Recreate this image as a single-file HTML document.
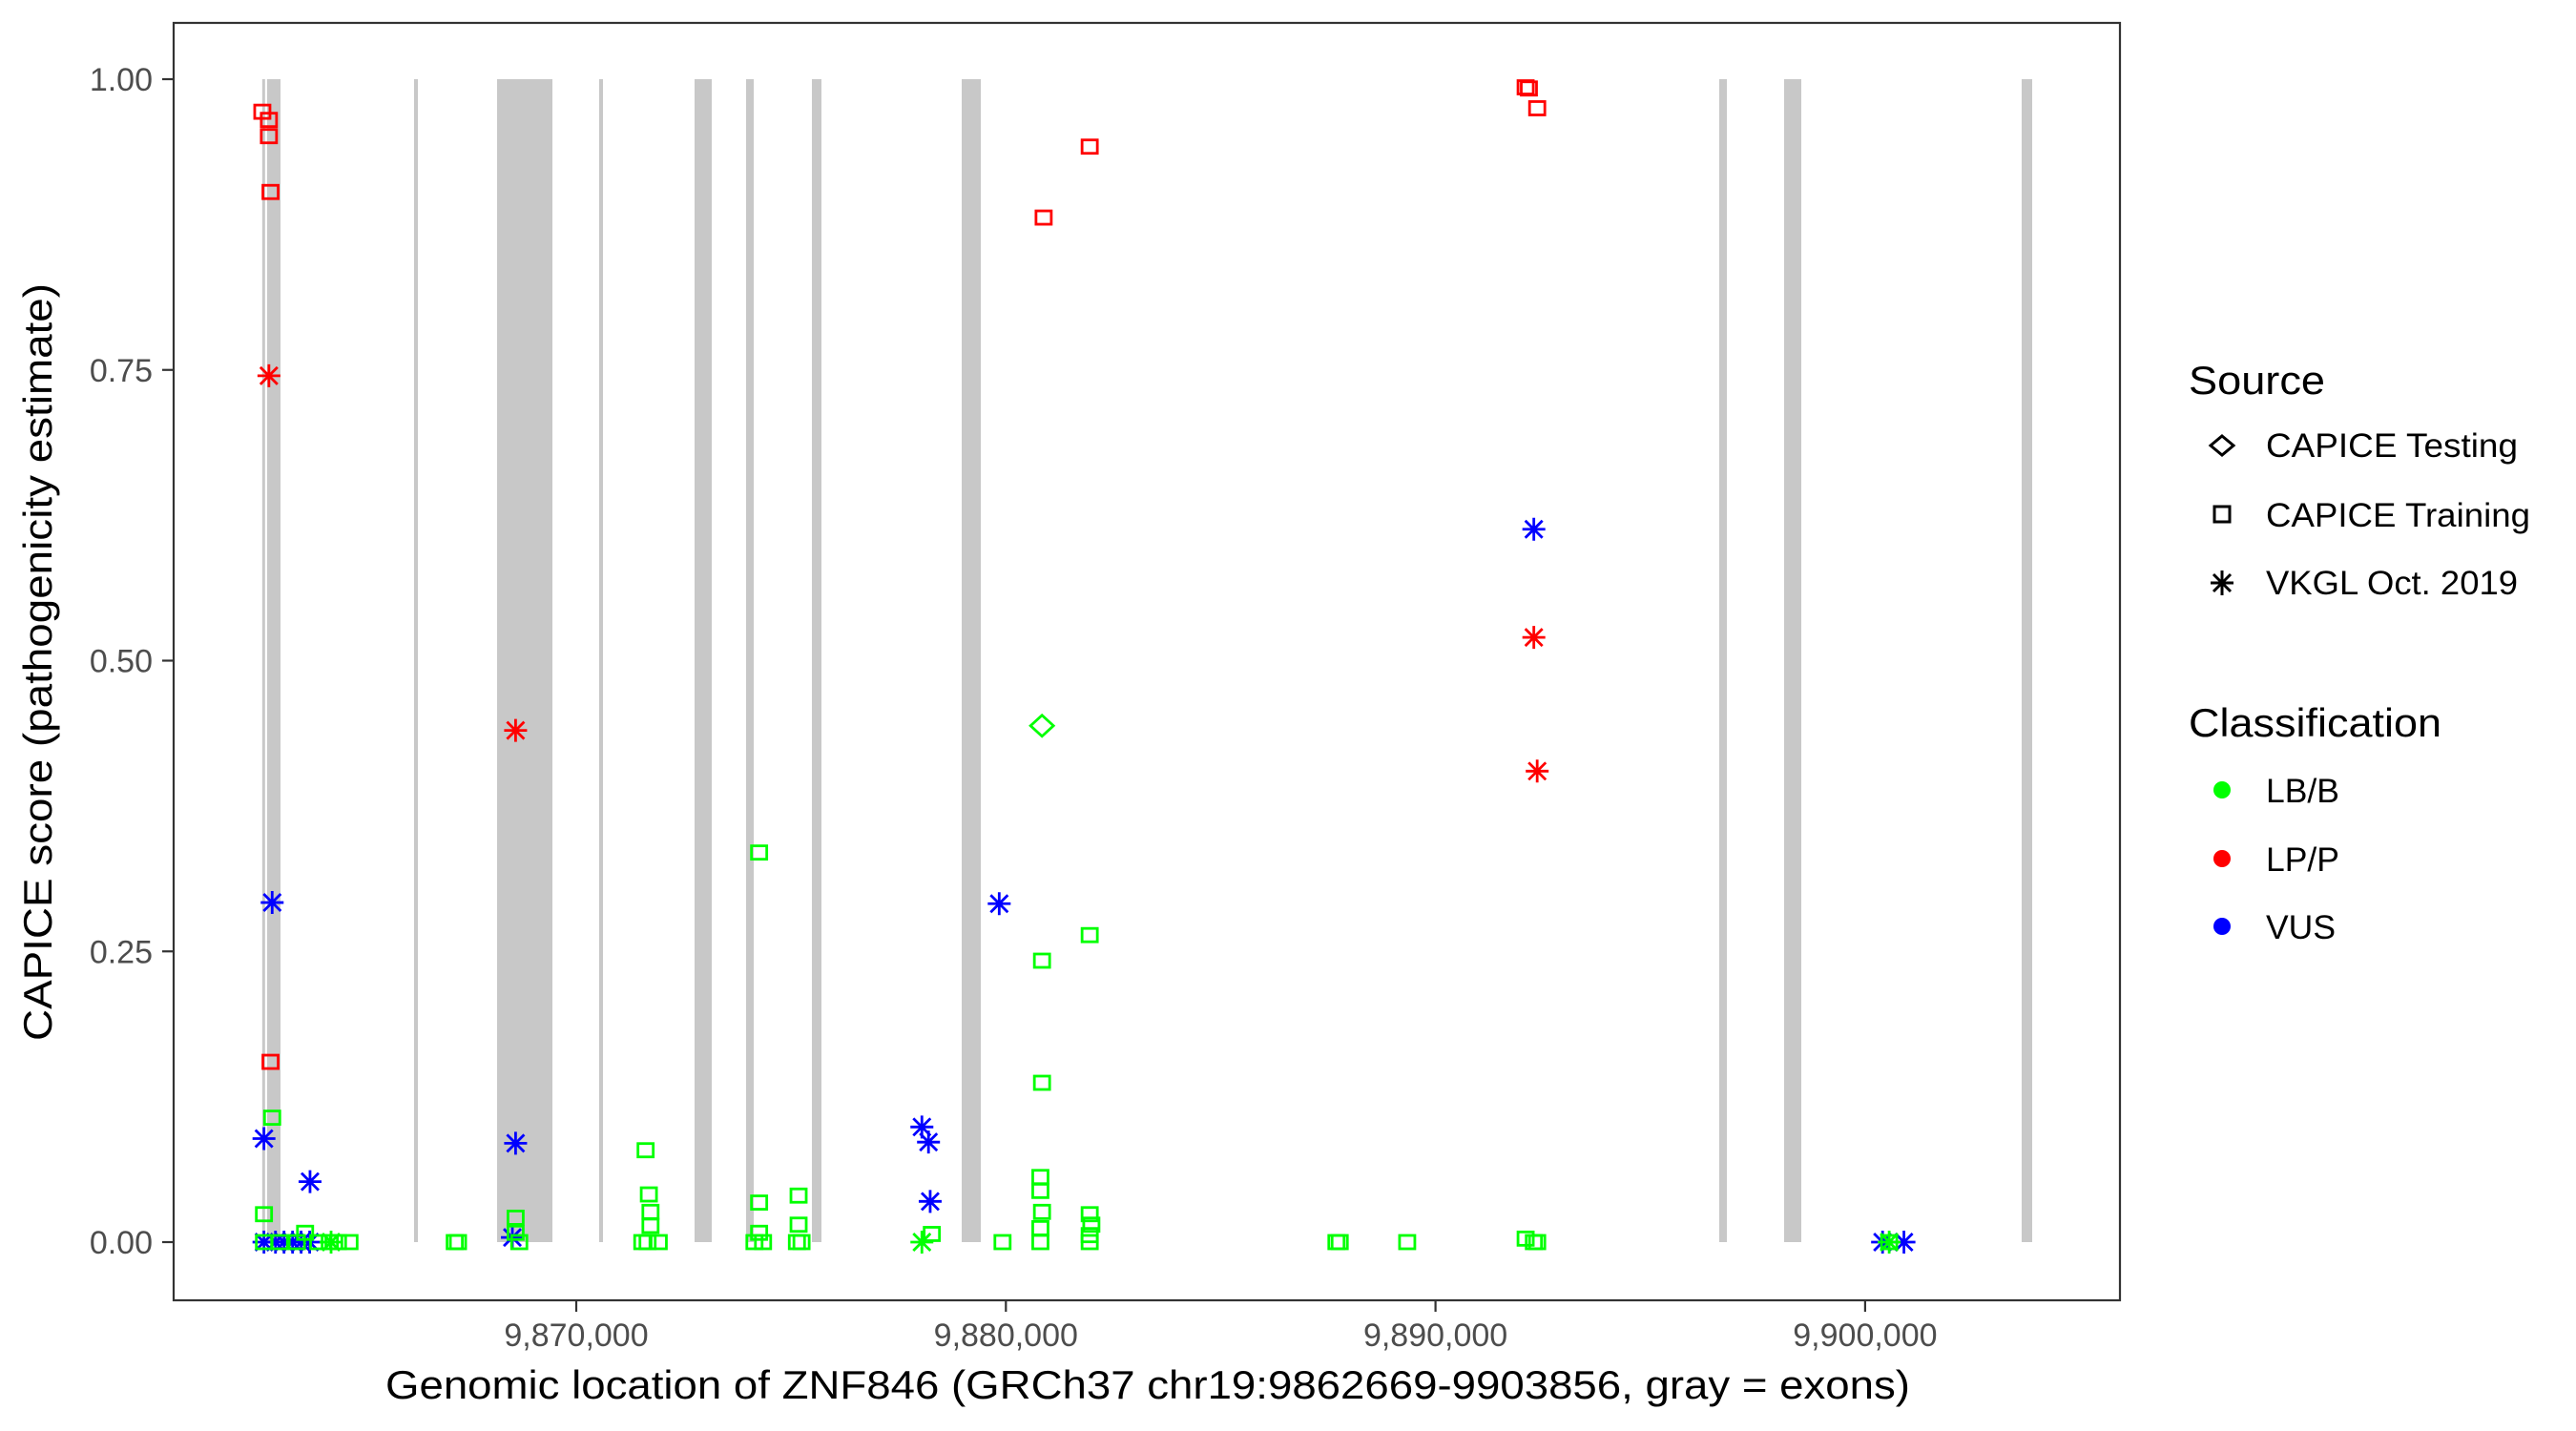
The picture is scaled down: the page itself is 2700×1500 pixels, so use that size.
<!DOCTYPE html>
<html><head><meta charset="utf-8"><title>ZNF846 CAPICE scores</title>
<style>html,body{margin:0;padding:0;background:#fff}svg{display:block}text{font-family:"Liberation Sans",Arial,sans-serif}</style>
</head><body>
<svg id="chart" width="2700" height="1500" viewBox="0 0 2700 1500" xmlns="http://www.w3.org/2000/svg">
<rect x="0" y="0" width="2700" height="1500" fill="#fff"/>
<g id="exons"></g>
<g id="points"></g>
<rect x="182" y="24" width="2040" height="1339" fill="none" stroke="#333" stroke-width="2.2"/>
<g id="yaxis"></g>
<g id="xaxis"></g>
<text x="1203" y="1466" font-size="42" text-anchor="middle" textLength="1598" lengthAdjust="spacingAndGlyphs">Genomic location of ZNF846 (GRCh37 chr19:9862669-9903856, gray = exons)</text>
<text transform="translate(54,694) rotate(-90)" font-size="42" text-anchor="middle" textLength="794" lengthAdjust="spacingAndGlyphs">CAPICE score (pathogenicity estimate)</text>
<g>
<text x="2294" y="413" font-size="42" textLength="143" lengthAdjust="spacingAndGlyphs">Source</text>
<path d="M2329 457 L2341 467 L2329 477 L2317 467 Z" fill="none" stroke="#000" stroke-width="3"/>
<text x="2375" y="479" font-size="35" textLength="264" lengthAdjust="spacingAndGlyphs">CAPICE Testing</text>
<rect x="2321" y="531" width="16" height="16" fill="none" stroke="#000" stroke-width="3"/>
<text x="2375" y="552" font-size="35" textLength="277" lengthAdjust="spacingAndGlyphs">CAPICE Training</text>
<path d="M2329 598 V624 M2317 611 H2341 M2320 602 L2338 620 M2338 602 L2320 620" stroke="#000" stroke-width="3"/>
<text x="2375" y="623" font-size="35" textLength="264" lengthAdjust="spacingAndGlyphs">VKGL Oct. 2019</text>
</g>
<g>
<text x="2294" y="772" font-size="42" textLength="265" lengthAdjust="spacingAndGlyphs">Classification</text>
<circle cx="2329" cy="828" r="9" fill="#00ff00"/>
<text x="2375" y="841" font-size="35" textLength="77" lengthAdjust="spacingAndGlyphs">LB/B</text>
<circle cx="2329" cy="900" r="9" fill="#ff0000"/>
<text x="2375" y="913" font-size="35" textLength="77" lengthAdjust="spacingAndGlyphs">LP/P</text>
<circle cx="2329" cy="971" r="9" fill="#0000ff"/>
<text x="2375" y="984" font-size="35" textLength="73" lengthAdjust="spacingAndGlyphs">VUS</text>
</g>
</svg>
<script>
const exonStarts = [9862690, 9862805, 9866225, 9868157, 9870533, 9872754, 9873953, 9875485, 9878972, 9896604, 9898114, 9903644];
const exonEnds   = [9862700, 9863116, 9866314, 9869445, 9870622, 9873153, 9874131, 9875707, 9879416, 9896782, 9898514, 9903889];
const yTicks = [0, 0.25, 0.5, 0.75, 1];
const yTickLabels = ["0.00", "0.25", "0.50", "0.75", "1.00"];
const xTicks = [9870000, 9880000, 9890000, 9900000];
const xTickLabels = ["9,870,000", "9,880,000", "9,890,000", "9,900,000"];
const pointPos = [
 9862693,9862846,9862846,9862884,9862884,9880879,9881951,9892098,9892174,9892367,
 9862846,9868588,9892289,9892367,
 9862922,9862731,9863803,9862731,9862999,9863198,9863397,9863596,9863795,9868588,9868513,9878045,9878199,9878238,9879845,9892289,9900406,9900904,
 9878045,9900560,9864293,
 9880841,
 9862922,9862731,9863688,9862731,9863098,9863497,9863994,9864263,9864454,9864722,9867171,9867248,9868588,9868588,9868673,9871614,9871690,9871728,9871728,9871537,9871660,9871920,9874256,9874256,9874256,9874148,9874348,9875175,9875175,9875136,9875244,9878276,9879922,9880803,9880803,9880841,9880803,9880803,9880841,9880841,9881951,9881951,9881990,9881951,9881951,9887694,9887771,9889341,9892098,9892289,9892367,9900560];
const pointScore = [
 0.972,0.965,0.951,0.903,0.155,0.881,0.942,0.993,0.992,0.975,
 0.745,0.440,0.520,0.405,
 0.292,0.089,0.052,0,0,0,0,0,0,0.085,0.004,0.099,0.086,0.035,0.291,0.613,0,0,
 0,0,0,
 0.444,
 0.107,0.024,0.008,0,0,0,0,0,0,0,0,0,0.021,0.008,0,0.079,0.041,0.026,0.014,0,0,0,0.335,0.034,0.008,0,0,0.040,0.015,0,0,0.007,0,0.056,0.044,0.026,0.012,0,0.242,0.137,0.264,0.024,0.015,0.006,0,0,0,0,0.003,0,0,0];
const pointSource = [
 "R","R","R","R","R","R","R","R","R","R",
 "V","V","V","V",
 "V","V","V","V","V","V","V","V","V","V","V","V","V","V","V","V","V","V",
 "V","V","V",
 "T",
 "R","R","R","R","R","R","R","R","R","R","R","R","R","R","R","R","R","R","R","R","R","R","R","R","R","R","R","R","R","R","R","R","R","R","R","R","R","R","R","R","R","R","R","R","R","R","R","R","R","R","R","R","R"];
const pointClass = [
 "P","P","P","P","P","P","P","P","P","P",
 "P","P","P","P",
 "U","U","U","U","U","U","U","U","U","U","U","U","U","U","U","U","U","U",
 "B","B","B",
 "B",
 "B","B","B","B","B","B","B","B","B","B","B","B","B","B","B","B","B","B","B","B","B","B","B","B","B","B","B","B","B","B","B","B","B","B","B","B","B","B","B","B","B","B","B","B","B","B","B","B","B","B","B","B","B"];

const NS = "http://www.w3.org/2000/svg";
function xScale(g){ return 604 + (g - 9870000) * 0.04503; }
function yScale(s){ return 1302 - s * 1219; }
const colors = {B:"#00ff00", P:"#ff0000", U:"#0000ff"};
function mk(tag, attrs, parent){ const e=document.createElementNS(NS,tag); for(const k in attrs) e.setAttribute(k,attrs[k]); parent.appendChild(e); return e; }

const exG = document.getElementById("exons");
for (let i=0;i<exonStarts.length;i++){
  const x0=xScale(exonStarts[i]), x1=xScale(exonEnds[i]);
  const r = mk("rect",{x:x0,y:yScale(1),width:Math.max(3,x1-x0),height:yScale(0)-yScale(1),fill:"#c8c8c8"},exG);
  
  
}

const yG = document.getElementById("yaxis");
yTicks.forEach((v,i)=>{
  const y=yScale(v);
  const l=mk("line",{x1:170,x2:182,y1:y,y2:y,stroke:"#333","stroke-width":2.2},yG);
  
  
  const t=mk("text",{x:160,y:y+12,"font-size":34,"text-anchor":"end",fill:"#4d4d4d"},yG);
  t.textContent=yTickLabels[i];
  
  
});
const xG = document.getElementById("xaxis");
xTicks.forEach((v,i)=>{
  const x=xScale(v);
  const l=mk("line",{x1:x,x2:x,y1:1363,y2:1375,stroke:"#333","stroke-width":2.2},xG);
  
  
  const t=mk("text",{x:x,y:1411,"font-size":34,"text-anchor":"middle",fill:"#4d4d4d"},xG);
  t.textContent=xTickLabels[i];
  
  
});

const pG = document.getElementById("points");
for (let i=0;i<pointPos.length;i++){
  const cx=xScale(pointPos[i]), cy=yScale(pointScore[i]), c=colors[pointClass[i]];
  let e;
  if (pointSource[i]==="R"){
    e=mk("rect",{x:cx-8,y:cy-7,width:16,height:14,fill:"none",stroke:c,"stroke-width":2.8},pG);
    
  } else if (pointSource[i]==="T"){
    e=mk("path",{d:`M${cx} ${cy-11} L${cx+12} ${cy} L${cx} ${cy+11} L${cx-12} ${cy} Z`,fill:"none",stroke:c,"stroke-width":2.8},pG);
    
  } else {
    e=mk("path",{d:`M${cx} ${cy-12} V${cy+12} M${cx-12} ${cy} H${cx+12} M${cx-9} ${cy-9} L${cx+9} ${cy+9} M${cx+9} ${cy-9} L${cx-9} ${cy+9}`,stroke:c,"stroke-width":2.8},pG);
    
  }
  
}
</script>
</body></html>
